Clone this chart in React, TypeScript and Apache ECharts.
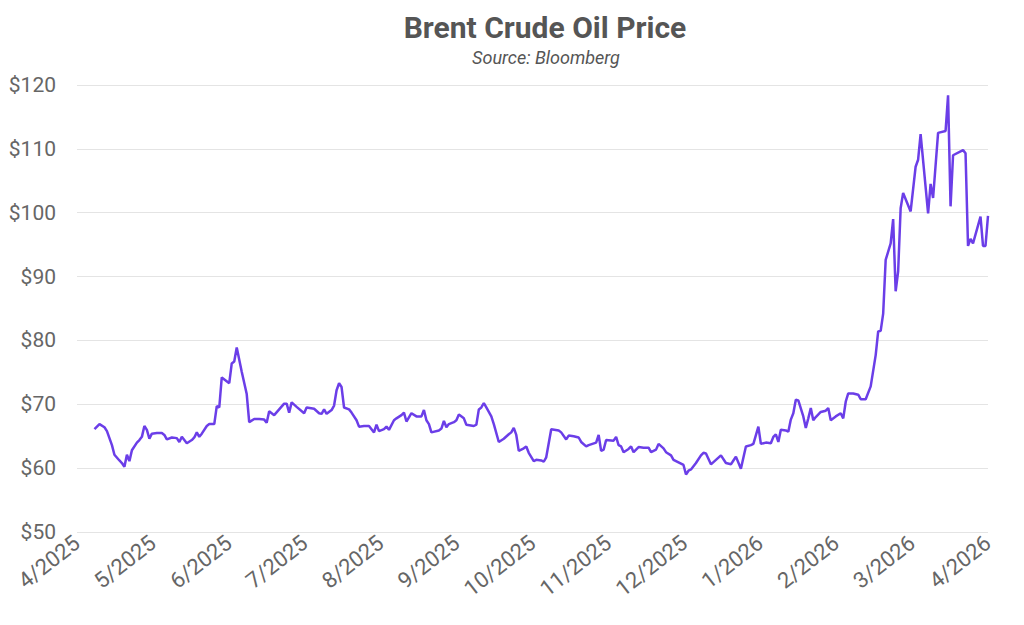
import React, { useEffect, useRef } from "react";
import * as echarts from "echarts";

const TITLE = "Brent Crude Oil Price";
const SUBTITLE = "Source: Bloomberg";
const AXIS_START = "2025-04-16";
const AXIS_END = "2026-04-16";
const X_TICK_LABELS = [
  "4/2025", "5/2025", "6/2025", "7/2025", "8/2025", "9/2025", "10/2025",
  "11/2025", "12/2025", "1/2026", "2/2026", "3/2026", "4/2026",
];
const Y_MIN = 50;
const Y_MAX = 120;
const Y_STEP = 10;

const dates = [
  "2025-04-23", "2025-04-25", "2025-04-27", "2025-04-28", "2025-04-30", "2025-05-01", "2025-05-03", "2025-05-04",
  "2025-05-05", "2025-05-06", "2025-05-07", "2025-05-08", "2025-05-10", "2025-05-11", "2025-05-12", "2025-05-13",
  "2025-05-14", "2025-05-15", "2025-05-16", "2025-05-18", "2025-05-20", "2025-05-21", "2025-05-22", "2025-05-24",
  "2025-05-26", "2025-05-27", "2025-05-28", "2025-05-30", "2025-06-01", "2025-06-02", "2025-06-03", "2025-06-04",
  "2025-06-05", "2025-06-07", "2025-06-08", "2025-06-10", "2025-06-11", "2025-06-12", "2025-06-13", "2025-06-16",
  "2025-06-17", "2025-06-18", "2025-06-19", "2025-06-21", "2025-06-23", "2025-06-24", "2025-06-26", "2025-06-28",
  "2025-06-30", "2025-07-01", "2025-07-02", "2025-07-04", "2025-07-06", "2025-07-08", "2025-07-09", "2025-07-10",
  "2025-07-11", "2025-07-13", "2025-07-16", "2025-07-17", "2025-07-20", "2025-07-22", "2025-07-23", "2025-07-24",
  "2025-07-25", "2025-07-27", "2025-07-28", "2025-07-29", "2025-07-30", "2025-07-31", "2025-08-01", "2025-08-03",
  "2025-08-04", "2025-08-06", "2025-08-07", "2025-08-09", "2025-08-11", "2025-08-12", "2025-08-13", "2025-08-14",
  "2025-08-15", "2025-08-17", "2025-08-18", "2025-08-19", "2025-08-21", "2025-08-22", "2025-08-24", "2025-08-25",
  "2025-08-26", "2025-08-28", "2025-08-30", "2025-09-01", "2025-09-02", "2025-09-03", "2025-09-04", "2025-09-05",
  "2025-09-08", "2025-09-09", "2025-09-10", "2025-09-11", "2025-09-12", "2025-09-14", "2025-09-15", "2025-09-16",
  "2025-09-18", "2025-09-19", "2025-09-22", "2025-09-23", "2025-09-24", "2025-09-25", "2025-09-26", "2025-09-27",
  "2025-09-29", "2025-09-30", "2025-10-02", "2025-10-04", "2025-10-06", "2025-10-07", "2025-10-08", "2025-10-09",
  "2025-10-10", "2025-10-12", "2025-10-13", "2025-10-14", "2025-10-16", "2025-10-17", "2025-10-19", "2025-10-20",
  "2025-10-21", "2025-10-23", "2025-10-26", "2025-10-27", "2025-10-29", "2025-10-30", "2025-11-01", "2025-11-03",
  "2025-11-04", "2025-11-06", "2025-11-07", "2025-11-10", "2025-11-11", "2025-11-12", "2025-11-13", "2025-11-14",
  "2025-11-17", "2025-11-18", "2025-11-19", "2025-11-20", "2025-11-21", "2025-11-23", "2025-11-24", "2025-11-25",
  "2025-11-27", "2025-11-29", "2025-12-01", "2025-12-02", "2025-12-04", "2025-12-05", "2025-12-07", "2025-12-08",
  "2025-12-10", "2025-12-11", "2025-12-13", "2025-12-15", "2025-12-16", "2025-12-17", "2025-12-18", "2025-12-20",
  "2025-12-22", "2025-12-23", "2025-12-24", "2025-12-26", "2025-12-28", "2025-12-30", "2026-01-01", "2026-01-03",
  "2026-01-04", "2026-01-05", "2026-01-07", "2026-01-09", "2026-01-11", "2026-01-12", "2026-01-14", "2026-01-15",
  "2026-01-17", "2026-01-19", "2026-01-20", "2026-01-21", "2026-01-22", "2026-01-23", "2026-01-25", "2026-01-26",
  "2026-01-27", "2026-01-28", "2026-01-29", "2026-01-30", "2026-02-01", "2026-02-02", "2026-02-03", "2026-02-04",
  "2026-02-05", "2026-02-06", "2026-02-08", "2026-02-10", "2026-02-11", "2026-02-12", "2026-02-14", "2026-02-16",
  "2026-02-17", "2026-02-18", "2026-02-19", "2026-02-21", "2026-02-23", "2026-02-24", "2026-02-26", "2026-02-28",
  "2026-03-02", "2026-03-03", "2026-03-04", "2026-03-05", "2026-03-06", "2026-03-08", "2026-03-09", "2026-03-10",
  "2026-03-11", "2026-03-12", "2026-03-13", "2026-03-16", "2026-03-18", "2026-03-19", "2026-03-20", "2026-03-23",
  "2026-03-24", "2026-03-25", "2026-03-27", "2026-03-30", "2026-03-31", "2026-04-01", "2026-04-02", "2026-04-06",
  "2026-04-07", "2026-04-08", "2026-04-09", "2026-04-10", "2026-04-13", "2026-04-14", "2026-04-15", "2026-04-16",
];

const prices = [
  66.1, 66.9, 66.4, 65.8, 63.6, 62.1, 61.2, 60.8,
  60.2, 62.1, 61.1, 62.8, 64.0, 64.4, 64.9, 66.6,
  66.0, 64.6, 65.4, 65.5, 65.5, 65.2, 64.5, 64.8,
  64.7, 64.1, 64.9, 63.9, 64.4, 64.8, 65.6, 64.9,
  65.4, 66.6, 66.9, 66.9, 69.7, 69.5, 74.2, 73.3,
  76.4, 76.7, 78.9, 75.1, 71.6, 67.2, 67.7, 67.7,
  67.6, 67.1, 68.9, 68.3, 69.2, 70.1, 70.1, 68.7,
  70.3, 69.6, 68.6, 69.5, 69.3, 68.6, 68.5, 69.2,
  68.5, 69.1, 69.8, 72.2, 73.3, 72.7, 69.5, 69.2,
  68.7, 67.5, 66.5, 66.6, 66.6, 66.1, 65.6, 66.8,
  65.8, 66.1, 66.5, 66.0, 67.5, 67.8, 68.3, 68.7,
  67.3, 68.6, 68.1, 68.1, 69.1, 67.5, 66.9, 65.6,
  65.9, 66.2, 67.4, 66.4, 66.9, 67.2, 67.5, 68.4,
  67.8, 66.8, 66.6, 66.8, 69.2, 69.5, 70.2, 69.5,
  68.1, 66.9, 64.1, 64.6, 65.3, 65.6, 66.3, 65.2,
  62.7, 63.1, 63.4, 62.4, 61.1, 61.3, 61.2, 61.0,
  61.7, 66.1, 65.9, 65.6, 64.5, 65.1, 65.0, 64.8,
  64.1, 63.4, 63.6, 64.0, 65.2, 62.7, 62.9, 64.4,
  64.3, 64.9, 63.6, 63.4, 62.5, 63.0, 63.4, 62.5,
  63.3, 63.2, 63.2, 62.5, 62.9, 63.8, 63.1, 62.5,
  62.0, 61.3, 60.9, 60.5, 59.0, 59.6, 59.8, 60.8,
  62.0, 62.4, 62.3, 60.6, 61.3, 62.0, 60.8, 60.6,
  61.2, 61.8, 59.9, 63.4, 63.6, 63.8, 66.5, 63.8,
  64.0, 63.9, 64.9, 65.3, 64.1, 66.0, 65.9, 65.7,
  67.6, 68.6, 70.7, 70.6, 68.1, 66.3, 67.8, 69.4,
  67.5, 68.0, 68.8, 69.0, 69.4, 67.5, 68.1, 68.6,
  67.8, 70.4, 71.7, 71.7, 71.5, 70.8, 70.8, 72.8,
  77.7, 81.4, 81.5, 84.2, 92.6, 95.2, 99.0, 87.7,
  90.8, 100.7, 103.1, 100.2, 107.2, 108.3, 112.3, 99.9,
  104.5, 102.3, 112.5, 112.8, 118.4, 101.0, 109.0, 109.8,
  109.3, 94.8, 95.9, 95.2, 99.4, 94.8, 94.8, 99.5,
];

const FONT = "Roboto, 'Noto Sans', sans-serif";

export default function App() {
  const ref = useRef<HTMLDivElement>(null);

  useEffect(() => {
    if (!ref.current) return;
    const chart = echarts.init(ref.current, null, { renderer: "svg" });
    const t0 = Date.parse(AXIS_START);
    const t1 = Date.parse(AXIS_END);
    const n = X_TICK_LABELS.length - 1;
    const data = dates.map((d, i) => [((Date.parse(d) - t0) / (t1 - t0)) * n, prices[i]]);

    chart.setOption({
      animation: false,
      backgroundColor: "#ffffff",
      textStyle: { fontFamily: FONT },
      title: [
        {
          text: TITLE,
          left: 540,
          top: 7,
          textAlign: "center",
          textStyle: { fontSize: 30, fontWeight: "bold", color: "#555555", fontFamily: FONT },
        },
        {
          text: SUBTITLE,
          left: 541,
          top: 43,
          textAlign: "center",
          textStyle: { fontSize: 18, fontWeight: "normal", fontStyle: "italic", color: "#555555", fontFamily: FONT },
        },
      ],
      grid: { left: 77, right: 36, top: 85, bottom: 93, containLabel: false },
      xAxis: {
        type: "value",
        min: 0,
        max: n,
        interval: 1,
        axisLine: { show: false },
        axisTick: { show: false },
        splitLine: { show: false },
        axisLabel: {
          rotate: 38,
          fontSize: 22,
          color: "#666666",
          margin: 8,
          fontFamily: FONT,
          formatter: (v: number) => X_TICK_LABELS[Math.round(v)] ?? "",
        },
      },
      yAxis: {
        type: "value",
        min: Y_MIN,
        max: Y_MAX,
        interval: Y_STEP,
        axisLine: { show: false },
        axisTick: { show: false },
        splitLine: { lineStyle: { color: "#e4e4e4", width: 1 } },
        axisLabel: {
          fontSize: 21,
          color: "#666666",
          margin: 21,
          fontFamily: FONT,
          formatter: (v: number) => "$" + v,
        },
      },
      series: [
        {
          type: "line",
          data,
          showSymbol: false,
          symbol: "none",
          lineStyle: { color: "#6b3ee8", width: 2.5 },
        },
      ],
    });
    return () => chart.dispose();
  }, []);

  return (
    <div
      ref={ref}
      style={{ position: "absolute", left: 0, top: 0, width: 1024, height: 625 }}
    />
  );
}
